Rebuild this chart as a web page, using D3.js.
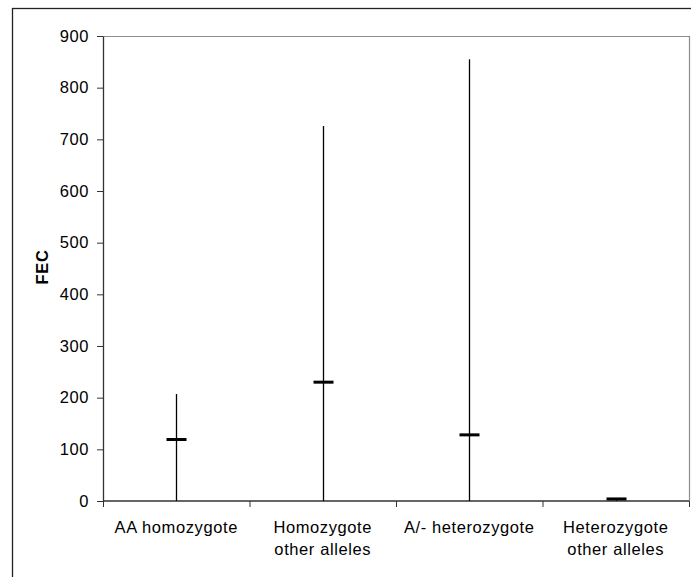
<!DOCTYPE html>
<html>
<head>
<meta charset="utf-8">
<script src="https://cdn.jsdelivr.net/npm/d3@7"></script>
<style>
  html, body { margin: 0; padding: 0; background: #fff; }
  svg { display: block; font-family: Arial, "Liberation Sans", sans-serif; }
  .lbl { letter-spacing: 0.6px; }
</style>
</head>
<body>
<svg id="chart" width="691" height="577"></svg>
<script>
// FEC by genotype group: range line (min to max) with a mean marker
const categories = [["AA homozygote"], ["Homozygote", "other alleles"], ["A/- heterozygote"], ["Heterozygote", "other alleles"]];
const minValues  = [0, 0, 0, 0];
const maxValues  = [207, 726, 855, 5];
const meanValues = [119, 230, 128, 4];
const yTicks     = [0, 100, 200, 300, 400, 500, 600, 700, 800, 900];

const svg = d3.select("#chart");
const W = 691, H = 577;
const plot = { left: 103, top: 36, right: 689, bottom: 501 };
const fontSize = 16.5;

// outer frame of the chart area
svg.append("rect")
  .attr("x", 12.5).attr("y", 8.5)
  .attr("width", W + 10).attr("height", H + 10)
  .attr("fill", "none").attr("stroke", "#222").attr("stroke-width", 1.3);

const x = d3.scaleBand()
  .domain(d3.range(categories.length))
  .range([plot.left, plot.right])
  .paddingInner(0).paddingOuter(0);

const y = d3.scaleLinear().domain([0, 900]).range([plot.bottom, plot.top]);

// plot area border (top and right in grey)
svg.append("path")
  .attr("d", `M${plot.left},${plot.top + 0.5}H${plot.right + 0.5}V${plot.bottom}`)
  .attr("fill", "none").attr("stroke", "#8c8c8c").attr("stroke-width", 1.2);

// y axis
const yAxis = d3.axisLeft(y).tickValues(yTicks).tickSize(6).tickSizeOuter(0).tickPadding(8);
const gy = svg.append("g").attr("transform", `translate(${plot.left},0)`).call(yAxis);
gy.select(".domain").attr("stroke", "#333").attr("stroke-width", 1.3);
gy.selectAll(".tick line").attr("stroke", "#333");
gy.selectAll(".tick text").attr("class", "lbl").attr("font-size", fontSize).attr("fill", "#000")
  .attr("font-family", "Arial, 'Liberation Sans', sans-serif");

// x axis: ticks at category boundaries
const gx = svg.append("g").attr("transform", `translate(0,${plot.bottom})`);
gx.append("line")
  .attr("x1", plot.left).attr("x2", plot.right)
  .attr("stroke", "#333").attr("stroke-width", 1.3);
const bounds = d3.range(categories.length + 1).map(i => i < categories.length ? x(i) : x(i - 1) + x.bandwidth());
gx.selectAll("line.tick").data(bounds).join("line")
  .attr("class", "tick")
  .attr("x1", d => d + 0.5).attr("x2", d => d + 0.5)
  .attr("y1", 0).attr("y2", 6)
  .attr("stroke", "#333");

// category labels
const labels = svg.append("g");
categories.forEach((lines, i) => {
  const cx = x(i) + x.bandwidth() / 2;
  const t = labels.append("text")
    .attr("class", "lbl")
    .attr("x", cx).attr("y", 533)
    .attr("text-anchor", "middle")
    .attr("font-size", fontSize).attr("fill", "#000");
  lines.forEach((ln, j) => {
    t.append("tspan").attr("x", cx).attr("dy", j === 0 ? 0 : 22).text(ln);
  });
});

// y axis title
svg.append("text")
  .attr("class", "lbl")
  .attr("transform", `translate(48,267) rotate(-90)`)
  .attr("text-anchor", "middle")
  .attr("font-size", fontSize).attr("font-weight", "bold").attr("fill", "#000")
  .text("FEC");

// range lines
const cxOf = i => Math.round(x(i) + x.bandwidth() / 2) + 0.5;
svg.append("g").selectAll("line").data(d3.range(categories.length)).join("line")
  .attr("x1", cxOf).attr("x2", cxOf)
  .attr("y1", i => y(minValues[i])).attr("y2", i => y(maxValues[i]))
  .attr("stroke", "#000").attr("stroke-width", 1.3);

// mean markers
svg.append("g").selectAll("line").data(d3.range(categories.length)).join("line")
  .attr("x1", i => cxOf(i) - 10).attr("x2", i => cxOf(i) + 10)
  .attr("y1", i => y(meanValues[i])).attr("y2", i => y(meanValues[i]))
  .attr("stroke", "#000").attr("stroke-width", 3);
</script>
</body>
</html>
